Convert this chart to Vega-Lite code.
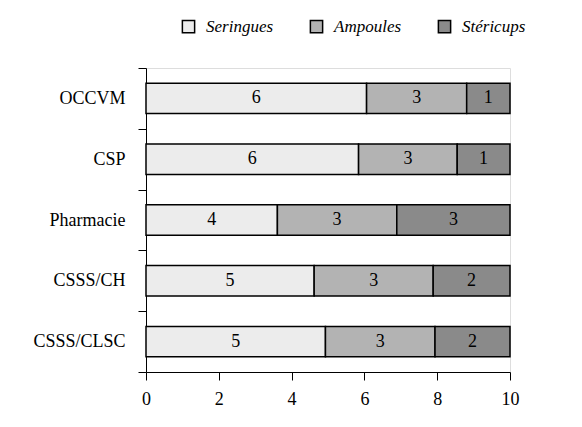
{
  "$schema": "https://vega.github.io/schema/vega-lite/v6.json",
  "width": 364,
  "height": 304,
  "autosize": "none",
  "padding": {"left": 146, "top": 68, "right": 72, "bottom": 55},
  "background": "white",
  "config": {"font": "Liberation Serif"},
  "data": {
    "values": [
      {"cat": "OCCVM", "serie": "Seringues", "k": 1, "v": 6.06},
      {"cat": "OCCVM", "serie": "Ampoules", "k": 2, "v": 2.75},
      {"cat": "OCCVM", "serie": "Stéricups", "k": 3, "v": 1.19},
      {"cat": "CSP", "serie": "Seringues", "k": 1, "v": 5.84},
      {"cat": "CSP", "serie": "Ampoules", "k": 2, "v": 2.71},
      {"cat": "CSP", "serie": "Stéricups", "k": 3, "v": 1.45},
      {"cat": "Pharmacie", "serie": "Seringues", "k": 1, "v": 3.61},
      {"cat": "Pharmacie", "serie": "Ampoules", "k": 2, "v": 3.28},
      {"cat": "Pharmacie", "serie": "Stéricups", "k": 3, "v": 3.11},
      {"cat": "CSSS/CH", "serie": "Seringues", "k": 1, "v": 4.62},
      {"cat": "CSSS/CH", "serie": "Ampoules", "k": 2, "v": 3.27},
      {"cat": "CSSS/CH", "serie": "Stéricups", "k": 3, "v": 2.11},
      {"cat": "CSSS/CLSC", "serie": "Seringues", "k": 1, "v": 4.93},
      {"cat": "CSSS/CLSC", "serie": "Ampoules", "k": 2, "v": 3.01},
      {"cat": "CSSS/CLSC", "serie": "Stéricups", "k": 3, "v": 2.06}
    ]
  },
  "encoding": {
    "y": {
      "field": "cat", "type": "nominal",
      "sort": ["OCCVM", "CSP", "Pharmacie", "CSSS/CH", "CSSS/CLSC"],
      "scale": {"paddingInner": 0, "paddingOuter": 0},
      "axis": {
        "title": null, "labelFont": "Liberation Serif", "labelFontSize": 18, "labelColor": "black",
        "domainColor": "black", "tickColor": "black", "tickBand": "extent", "tickSize": 8,
        "labelPadding": 13, "grid": false
      }
    },
    "x": {
      "field": "v", "type": "quantitative", "stack": "zero",
      "scale": {"domain": [0, 10], "nice": false},
      "axis": {
        "title": null, "values": [0, 2, 4, 6, 8, 10], "labelFont": "Liberation Serif", "labelFontSize": 18,
        "labelColor": "black", "domainColor": "black", "tickColor": "black", "tickSize": 8,
        "labelPadding": 10, "grid": false, "labelFlush": false
      }
    },
    "order": {"field": "k", "type": "quantitative"}
  },
  "layer": [
    {
      "mark": {"type": "bar", "stroke": "black", "strokeWidth": 1.5, "height": {"band": 0.5}},
      "encoding": {
        "color": {
          "field": "serie", "type": "nominal",
          "scale": {"domain": ["Seringues", "Ampoules", "Stéricups"], "range": ["#ececec", "#b3b3b3", "#8a8a8a"]},
          "legend": {
            "title": null, "orient": "none", "direction": "horizontal", "legendX": 34, "legendY": -50,
            "symbolType": "square", "symbolSize": 150, "symbolStrokeColor": "black", "symbolStrokeWidth": 1.5,
            "symbolOpacity": 1, "labelFont": "Liberation Serif", "labelFontStyle": "italic", "labelFontSize": 17,
            "labelColor": "black", "columnPadding": 33, "labelOffset": 9
          }
        }
      }
    },
    {
      "mark": {"type": "text", "font": "Liberation Serif", "fontSize": 18, "color": "black", "baseline": "middle"},
      "encoding": {
        "x": {"field": "v", "type": "quantitative", "stack": "zero", "bandPosition": 0.5},
        "text": {"field": "v", "type": "quantitative", "format": ".0f"}
      }
    }
  ]
}
